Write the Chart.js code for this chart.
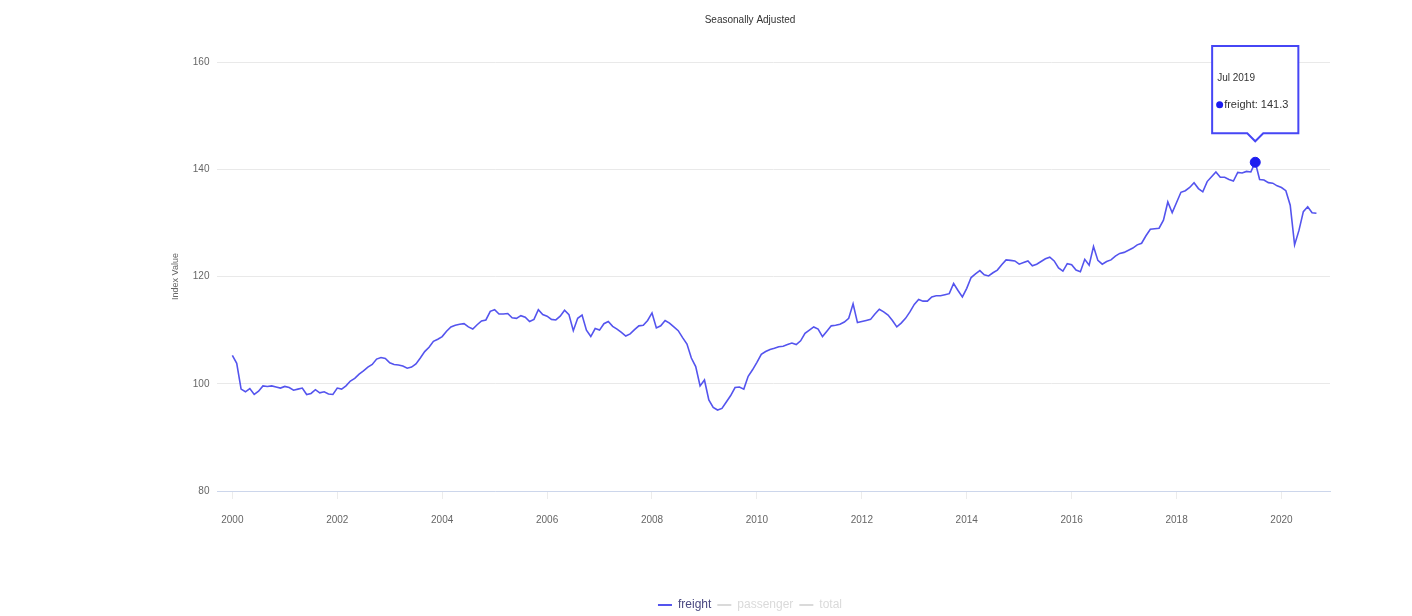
<!DOCTYPE html>
<html>
<head>
<meta charset="utf-8">
<title>Freight - Seasonally Adjusted</title>
<script src="https://cdn.jsdelivr.net/npm/chart.js@4/dist/chart.umd.min.js"></script>
<style>
  html, body { margin: 0; padding: 0; background: #fff; }
  #wrap { width: 1412px; height: 616px; position: relative; }
</style>
</head>
<body>
<div id="wrap"><canvas id="grafico"></canvas></div>
<script>
// categorias: meses de jan/2000 a set/2020
const startYear = 2000;
const monthNames = ["Jan", "Feb", "Mar", "Apr", "May", "Jun", "Jul", "Aug", "Sep", "Oct", "Nov", "Dec"];

// valores (índice, ajustado sazonalmente)
const freight = [
  105.3, 103.8, 99.0, 98.5, 99.1, 98.0, 98.6, 99.6, 99.5, 99.6, 99.4, 99.2,
  99.5, 99.3, 98.8, 99.0, 99.2, 98.0, 98.2, 98.9, 98.3, 98.5, 98.1, 98.0,
  99.2, 99.0, 99.6, 100.5, 101.0, 101.8, 102.4, 103.1, 103.6, 104.6, 104.9, 104.7,
  103.9, 103.6, 103.5, 103.3, 102.9, 103.1, 103.7, 104.8, 106.0, 106.8, 107.9, 108.3,
  108.8, 109.8, 110.6, 110.9, 111.1, 111.2, 110.6, 110.2, 111.0, 111.7, 111.9, 113.5,
  113.8, 113.0, 113.0, 113.1, 112.3, 112.2, 112.7, 112.4, 111.6, 112.0, 113.8, 112.9,
  112.6, 112.0, 111.9, 112.6, 113.7, 112.9, 109.9, 112.2, 112.8, 110.0, 108.8, 110.3,
  110.0, 111.2, 111.6, 110.7, 110.2, 109.6, 108.9, 109.3, 110.1, 110.8, 110.9, 111.8,
  113.2, 110.4, 110.8, 111.8, 111.3, 110.6, 109.9, 108.6, 107.4, 104.8, 103.2, 99.6,
  100.7, 97.0, 95.6, 95.1, 95.4, 96.6, 97.8, 99.3, 99.4, 99.0, 101.4, 102.6,
  104.0, 105.5, 106.0, 106.4, 106.6, 106.9, 107.0, 107.3, 107.6, 107.3, 108.0, 109.4,
  110.0, 110.6, 110.2, 108.8, 109.8, 110.8, 110.9, 111.1, 111.5, 112.2, 114.9, 111.4,
  111.6, 111.8, 112.0, 113.0, 113.9, 113.4, 112.8, 111.8, 110.6, 111.3, 112.2, 113.4,
  114.8, 115.7, 115.4, 115.4, 116.2, 116.4, 116.4, 116.6, 116.8, 118.7, 117.4, 116.2,
  117.8, 119.8, 120.5, 121.1, 120.3, 120.1, 120.7, 121.2, 122.2, 123.1, 123.0, 122.9,
  122.3, 122.6, 122.9, 122.0, 122.3, 122.8, 123.3, 123.6, 122.9, 121.6, 121.0, 122.4,
  122.2, 121.2, 120.9, 123.2, 122.1, 125.6, 123.0, 122.3, 122.8, 123.1, 123.8, 124.3,
  124.5, 124.9, 125.3, 125.9, 126.2, 127.6, 128.8, 128.9, 129.0, 130.5, 133.9, 131.9,
  133.8, 135.7, 136.0, 136.6, 137.5, 136.4, 135.8, 137.7, 138.6, 139.5, 138.5, 138.5,
  138.1, 137.8, 139.4, 139.3, 139.6, 139.5, 141.3, 138.1, 138.0, 137.5, 137.4, 136.9,
  136.6, 136.0, 133.3, 125.9, 128.6, 132.1, 133.0, 131.9, 131.8
];

// rótulos dos eixos
const xTickYears = [2000, 2002, 2004, 2006, 2008, 2010, 2012, 2014, 2016, 2018, 2020];
const yTicks = [80, 100, 120, 140, 160];
const hiddenSeries = ["passenger", "total"];
const highlightLabel = "Jul 2019";

const monthLabels = freight.map((v, i) => monthNames[i % 12] + " " + (startYear + Math.floor(i / 12)));

const FONT = "'Liberation Sans', Arial, sans-serif";
Chart.defaults.font.family = FONT;
Chart.defaults.animation = false;

const ctx = document.getElementById("grafico");

const chart = new Chart(ctx, {
  type: "line",
  data: {
    datasets: [
      {
        label: "freight",
        data: freight.map((v, i) => ({ x: i, y: v })),
        borderColor: "#5454ee",
        backgroundColor: "#5454ee",
        borderWidth: 1.6,
        tension: 0,
        pointRadius: 0,
        pointHoverRadius: 5,
        pointHoverBackgroundColor: "#1c1cf0",
        pointHoverBorderColor: "#1c1cf0",
        pointHoverBorderWidth: 1
      },
      ...hiddenSeries.map(name => ({ label: name, data: [], hidden: true, borderColor: "#d8d8d8", backgroundColor: "#d8d8d8" }))
    ]
  },
  options: {
    responsive: true,
    maintainAspectRatio: false,
    layout: { padding: { left: 170, right: 82, top: 0, bottom: -5 } },
    interaction: { mode: "nearest", intersect: false },
    scales: {
      x: {
        type: "linear",
        min: -3.4,
        max: 251.1,
        afterBuildTicks: s => { s.ticks = xTickYears.map(y => ({ value: (y - startYear) * 12 })); },
        afterFit: s => { s.height = 102; },
        ticks: {
          autoSkip: false,
          maxRotation: 0,
          padding: 15,
          color: "#666",
          font: { size: 10 },
          callback: v => String(startYear + v / 12)
        },
        grid: { drawOnChartArea: false, drawTicks: true, tickLength: 8, color: "#ececec" },
        border: { display: true, color: "#ccd6eb", width: 1 }
      },
      y: {
        min: 80,
        max: 160,
        afterBuildTicks: s => { s.ticks = yTicks.map(v => ({ value: v })); },
        ticks: { padding: 8, color: "#666", font: { size: 10 } },
        grid: { color: "#e9e9e9", drawTicks: false },
        border: { display: false },
        title: { display: true, text: "Index Value", color: "#666", font: { size: 9 }, padding: { top: 0, bottom: 4 } }
      }
    },
    plugins: {
      title: {
        display: true,
        text: "Seasonally Adjusted",
        color: "#333",
        font: { size: 10, weight: "normal" },
        padding: { top: 14, bottom: 36 }
      },
      legend: {
        position: "bottom",
        labels: {
          usePointStyle: true,
          pointStyle: "line",
          pointStyleWidth: 14,
          color: "#4a4880",
          font: { size: 12 },
          padding: 6,
          generateLabels: c => Chart.defaults.plugins.legend.labels.generateLabels(c).map(item => {
            if (item.hidden) {
              item.fontColor = "#dadada";
              item.strokeStyle = "#dadada";
              item.hidden = false;
            }
            item.lineWidth = 2;
            return item;
          })
        }
      },
      tooltip: {
        yAlign: "bottom",
        xAlign: "center",
        caretSize: 8,
        caretPadding: 21,
        cornerRadius: 0,
        backgroundColor: "rgba(255,255,255,0.96)",
        borderColor: "#4646f5",
        borderWidth: 2,
        titleColor: "#333",
        bodyColor: "#333",
        titleFont: { size: 10, weight: "normal" },
        bodyFont: { size: 11 },
        titleMarginBottom: 14,
        padding: { top: 26, bottom: 22, left: 5, right: 10 },
        usePointStyle: true,
        boxWidth: 5,
        boxHeight: 5,
        callbacks: {
          title: items => monthLabels[items[0].dataIndex],
          label: item => item.dataset.label + ": " + item.parsed.y.toFixed(1),
          labelColor: () => ({ borderColor: "#1c1cf0", backgroundColor: "#1c1cf0" }),
          labelPointStyle: () => ({ pointStyle: "circle", rotation: 0 })
        }
      }
    }
  }
});

// destaca o ponto de jul/2019 com o tooltip aberto
const idx = monthLabels.indexOf(highlightLabel);
const ativo = [{ datasetIndex: 0, index: idx }];
chart.setActiveElements(ativo);
chart.tooltip.setActiveElements(ativo, { x: 0, y: 0 });
chart.update("none");
</script>
</body>
</html>
